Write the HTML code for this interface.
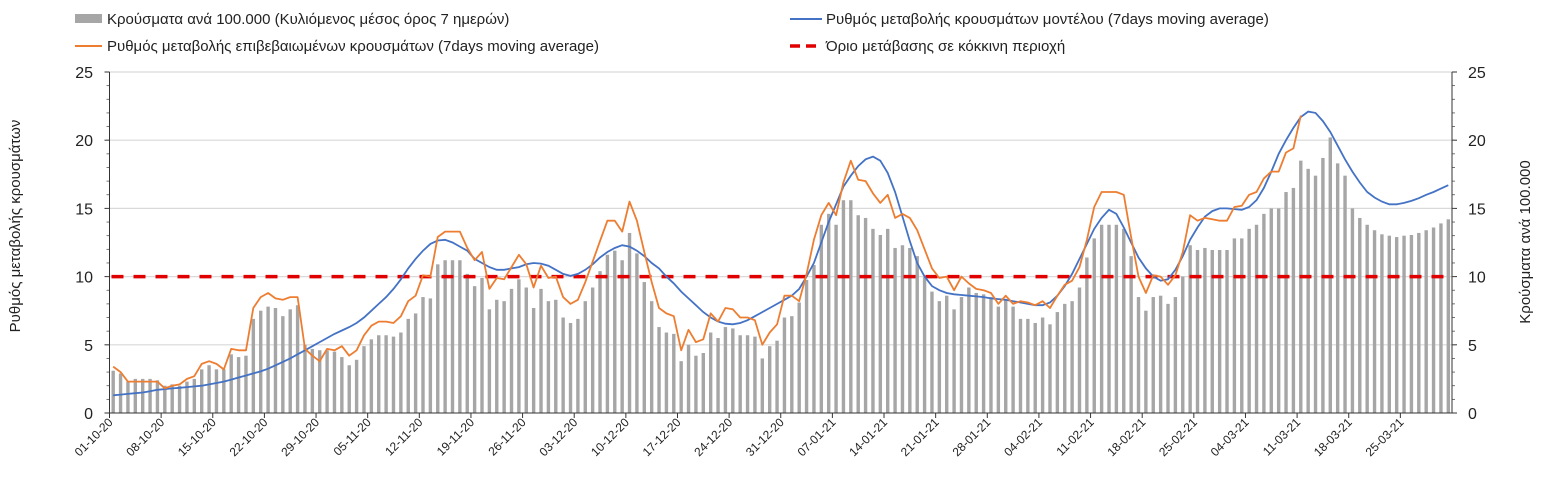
<!DOCTYPE html>
<html><head><meta charset="utf-8"><style>
html,body{margin:0;padding:0;background:#fff;}
svg{display:block;font-family:"Liberation Sans",sans-serif;}
</style></head><body>
<svg id="chart" width="1546" height="493" viewBox="0 0 1546 493" xmlns="http://www.w3.org/2000/svg">
<g id="legend" font-size="15" fill="#222">
 <g><rect x="75" y="14" width="27" height="9" fill="#a6a6a6"/><text x="107" y="24">Κρούσματα ανά 100.000 (Κυλιόμενος μέσος όρος 7 ημερών)</text></g>
 <g><line x1="790" y1="19" x2="822" y2="19" stroke="#4472c4" stroke-width="2"/><text x="826" y="24">Ρυθμός μεταβολής κρουσμάτων μοντέλου (7days moving average)</text></g>
 <g><line x1="75" y1="46" x2="102" y2="46" stroke="#ed7d31" stroke-width="2"/><text x="107" y="51">Ρυθμός μεταβολής επιβεβαιωμένων κρουσμάτων (7days moving average)</text></g>
 <g><line x1="790" y1="46" x2="822" y2="46" stroke="#e00000" stroke-width="3.5" stroke-dasharray="10,6"/><text x="826" y="51">Όριο μετάβασης σε κόκκινη περιοχή</text></g>
</g>
<text transform="translate(20,226) rotate(-90)" text-anchor="middle" font-size="15" fill="#222">Ρυθμός μεταβολής κρουσμάτων</text>
<text transform="translate(1530,242) rotate(-90)" text-anchor="middle" font-size="15" fill="#222">Κρούσματα ανά 100.000</text>
<g id="grid"></g>
<g id="bars"></g>
<g id="lines"></g>
<g id="axes"></g>
</svg>
<script>
const startDay = [2020, 10, 1];
const yTicks = [0, 5, 10, 15, 20, 25];
const thresholdValue = [10];
const cases = [3.1,2.9,2.3,2.5,2.5,2.5,2.4,2.0,2.1,2.0,2.3,2.5,3.2,3.5,3.2,3.2,4.3,4.1,4.2,6.9,7.5,7.8,7.7,7.1,7.6,7.9,5.0,4.7,4.6,4.6,4.5,4.1,3.5,3.9,4.9,5.4,5.7,5.7,5.6,5.9,6.9,7.3,8.5,8.4,10.9,11.2,11.2,
11.2,10.2,9.3,9.9,7.6,8.3,8.2,9.1,9.8,9.2,7.7,9.1,8.2,8.3,7.0,6.6,6.9,8.2,9.2,10.4,11.6,11.9,11.2,13.2,11.7,9.6,8.2,6.3,5.9,5.8,3.8,5.0,4.2,4.4,5.9,5.5,6.3,6.2,5.7,5.7,5.6,4.0,4.9,5.3,7.0,
7.1,8.1,9.75,10.85,13.8,14.6,13.8,15.6,15.6,14.5,14.3,13.5,13.05,13.5,12.1,12.3,12.1,11.5,9.95,8.9,8.2,8.6,7.6,8.5,9.2,8.8,8.7,8.5,7.8,8.3,7.8,6.9,6.9,6.6,7.0,6.5,7.4,8.0,8.2,9.2,11.4,12.8,13.8,13.8,13.8,
13.5,11.5,8.5,7.5,8.5,8.6,8.0,8.5,10.0,12.3,11.95,12.1,11.95,11.95,11.95,12.8,12.8,13.5,13.8,14.6,15.0,15.0,16.2,16.5,18.5,17.9,17.4,18.7,20.2,18.3,17.4,15.0,14.3,13.8,13.4,13.1,13.0,12.9,13.0,13.05,13.2,13.4,13.6,13.9,14.2];
const confirmedRate = [3.4,3.0,2.3,2.3,2.3,2.3,2.3,1.8,2.0,2.1,2.5,2.7,3.6,3.8,3.6,3.2,4.7,4.6,4.6,7.7,8.5,8.8,8.4,8.3,8.5,8.5,4.7,4.2,3.8,4.7,4.6,4.9,4.2,4.6,5.7,6.4,6.7,6.7,6.6,7.1,8.2,8.6,10.1,10.0,12.9,13.3,13.3,
13.3,12.1,11.2,11.8,9.1,9.9,9.8,10.7,11.6,10.9,9.2,10.8,9.9,10.0,8.5,8.0,8.3,9.6,11.1,12.6,14.1,14.1,13.3,15.5,14.1,11.8,9.6,7.7,7.3,7.1,4.6,6.1,5.2,5.4,7.3,6.7,7.7,7.6,7.0,7.0,6.8,5.0,5.9,6.5,8.6,
8.6,8.2,10.2,12.7,14.5,15.4,14.5,16.9,18.5,17.1,17.0,16.1,15.4,16.0,14.3,14.6,14.3,13.4,12.0,10.6,9.9,10.0,9.0,10.0,9.5,9.1,9.0,8.8,8.0,8.6,8.0,8.2,8.1,7.9,8.2,7.7,8.6,9.4,9.7,10.7,12.7,15.1,16.2,16.2,16.2,
16.0,12.9,10.0,8.8,10.1,10.0,9.4,10.1,11.8,14.5,14.1,14.3,14.2,14.1,14.1,15.1,15.2,16.0,16.2,17.2,17.7,17.7,19.1,19.4,21.8];
const modelRate = [1.3,1.35,1.4,1.45,1.5,1.6,1.7,1.75,1.8,1.85,1.9,1.95,2.0,2.1,2.2,2.3,2.45,2.6,2.75,2.9,3.05,3.25,3.5,3.75,4.0,4.3,4.6,4.9,5.2,5.5,5.8,6.05,6.3,6.6,7.0,7.5,8.0,8.5,9.1,9.8,10.6,11.3,11.9,12.4,12.65,12.7,12.5,
12.2,11.9,11.3,11.0,10.7,10.5,10.5,10.6,10.7,10.9,11.0,10.95,10.8,10.5,10.2,10.05,10.2,10.5,10.9,11.4,11.8,12.1,12.3,12.2,11.9,11.5,11.0,10.6,10.0,9.5,8.9,8.4,7.9,7.4,7.0,6.7,6.55,6.5,6.6,6.8,7.1,7.4,7.7,8.0,8.3,
8.6,9.1,10.0,11.0,12.5,14.0,15.3,16.6,17.4,18.1,18.6,18.8,18.5,17.6,16.2,14.4,12.6,11.0,10.0,9.3,9.0,8.8,8.7,8.65,8.6,8.55,8.5,8.4,8.35,8.3,8.2,8.1,8.0,7.9,7.9,8.1,8.6,9.3,10.2,11.3,12.4,13.5,14.3,14.9,14.6,
13.6,12.5,11.4,10.6,10.0,9.7,9.8,10.5,11.5,12.7,13.6,14.4,14.8,15.0,15.0,14.95,14.9,15.1,15.6,16.5,17.7,19.0,20.0,20.9,21.7,22.1,22.0,21.4,20.6,19.6,18.6,17.7,16.9,16.2,15.8,15.5,15.3,15.3,15.4,15.55,15.75,16.0,16.2,16.45,16.7];

const NS = "http://www.w3.org/2000/svg";
const L = 109.5, R = 1452, T = 72, B = 413, N = cases.length;
const band = (R - L) / N;
const xBand = i => L + i * band;
const xC = i => L + (i + 0.5) * band;
const y = v => B - v / 25 * (B - T);
function mk(tag, attrs, parent){ const e = document.createElementNS(NS, tag); for (const k in attrs) e.setAttribute(k, attrs[k]); parent.appendChild(e); return e; }
const grid = document.getElementById('grid'), bars = document.getElementById('bars'), lines = document.getElementById('lines'), axes = document.getElementById('axes');

yTicks.forEach(t => {
  if (t > 0) { const g = mk('line', {x1: L, x2: R, y1: y(t), y2: y(t), stroke: '#d9d9d9', 'stroke-width': 1.2}, grid);
  
   }
  const a = mk('text', {x: 93, y: y(t) + 6, 'text-anchor': 'end', 'font-size': 16, fill: '#222'}, axes); a.textContent = t;
  
  
  const b = mk('text', {x: 1468, y: y(t) + 6, 'text-anchor': 'start', 'font-size': 16, fill: '#222'}, axes); b.textContent = t;
  
  
  mk('line', {x1: L - 5, x2: L, y1: y(t), y2: y(t), stroke: '#333', 'stroke-width': 1}, axes);
  mk('line', {x1: R, x2: R + 5, y1: y(t), y2: y(t), stroke: '#333', 'stroke-width': 1}, axes);
});
for (let t = 1; t < 25; t++) {
  mk('line', {x1: L - 3, x2: L, y1: y(t), y2: y(t), stroke: '#555', 'stroke-width': 0.8}, axes);
  mk('line', {x1: R, x2: R + 3, y1: y(t), y2: y(t), stroke: '#555', 'stroke-width': 0.8}, axes);
}

cases.forEach((v, i) => {
  const r = mk('rect', {x: xC(i) - 1.7, y: y(v), width: 3.4, height: B - y(v), fill: '#a6a6a6'}, bars);
  
  
});

const th = mk('line', {x1: L + 2, x2: R - 6, y1: y(thresholdValue[0]), y2: y(thresholdValue[0]), stroke: '#e00000', 'stroke-width': 3.5, 'stroke-dasharray': '12,10'}, lines);



function path(arr){ let d = ''; arr.forEach((v, i) => { if (v == null) return; d += (d ? 'L' : 'M') + xC(i).toFixed(1) + ',' + y(v).toFixed(1); }); return d; }
const mp = mk('path', {d: path(modelRate), fill: 'none', stroke: '#4472c4', 'stroke-width': 1.8}, lines);


const cp = mk('path', {d: path(confirmedRate), fill: 'none', stroke: '#ed7d31', 'stroke-width': 1.8, 'stroke-linejoin': 'round'}, lines);



mk('line', {x1: L, x2: L, y1: T, y2: B, stroke: '#333', 'stroke-width': 1}, axes);
mk('line', {x1: R, x2: R, y1: T, y2: B, stroke: '#333', 'stroke-width': 1}, axes);
mk('line', {x1: L, x2: R, y1: B, y2: B, stroke: '#333', 'stroke-width': 1}, axes);

const d0 = new Date(startDay[0], startDay[1] - 1, startDay[2], 12);
for (let i = 0; i < N; i += 7) {
  const dt = new Date(d0.getTime() + i * 86400000);
  const lab = String(dt.getDate()).padStart(2,'0') + '-' + String(dt.getMonth()+1).padStart(2,'0') + '-' + String(dt.getFullYear()).slice(2);
  const xx = xBand(i);
  mk('line', {x1: xx, x2: xx, y1: B, y2: B + 5, stroke: '#333', 'stroke-width': 1}, axes);
  const t = mk('text', {x: 0, y: 0, 'text-anchor': 'end', 'font-size': 12, fill: '#222', transform: `translate(${xx + 4},${B + 10}) rotate(-45)`}, axes);
  t.textContent = lab;
  
  
}
</script>
</body></html>
